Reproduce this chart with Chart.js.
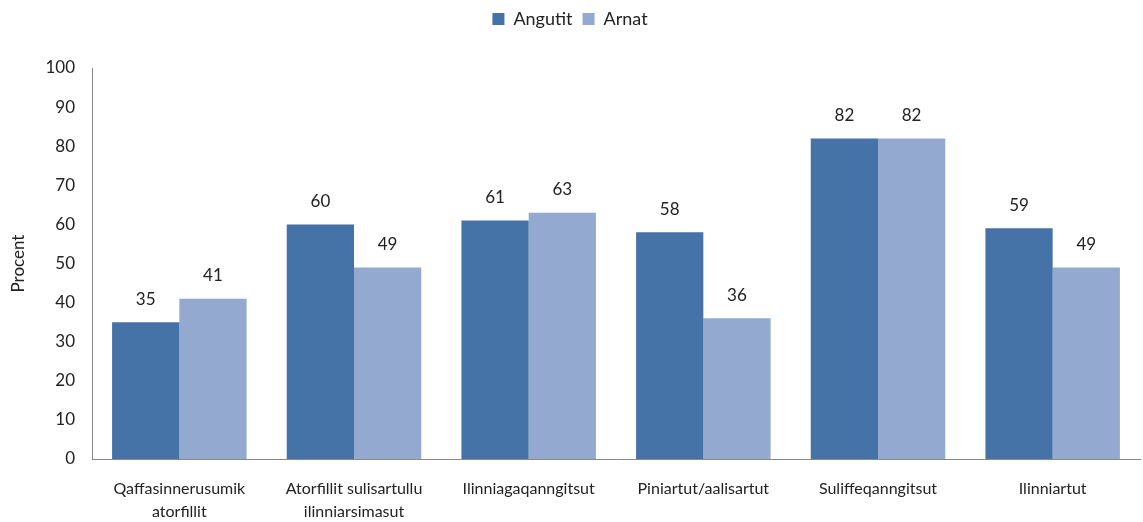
<!DOCTYPE html>
<html>
<head>
<meta charset="utf-8">
<script src="https://cdn.jsdelivr.net/npm/chart.js@4"></script>
<style>
  html, body { margin: 0; padding: 0; background: #fff; }
  #wrap { width: 1143px; height: 522px; }
</style>
</head>
<body>
<div id="wrap"><canvas id="myChart" width="1143" height="522"></canvas></div>
<script>
// categories and values
var categories = [
  ["Qaffasinnerusumik", "atorfillit"],
  ["Atorfillit sulisartullu", "ilinniarsimasut"],
  "Ilinniagaqanngitsut",
  "Piniartut/aalisartut",
  "Suliffeqanngitsut",
  "Ilinniartut"
];
var angutit = [35, 60, 61, 58, 82, 59];
var arnat = [41, 49, 63, 36, 82, 49];
var yTicks = [0, 10, 20, 30, 40, 50, 60, 70, 80, 90, 100];

var textColor = "#222";
var fontFamily = "Lato, 'Open Sans', sans-serif";

// draws the number above each bar
var barValues = {
  id: "barValues",
  afterDatasetsDraw: function(chart) {
    var ctx = chart.ctx;
    ctx.save();
    ctx.font = "17px " + fontFamily;
    ctx.fillStyle = textColor;
    ctx.textAlign = "center";
    ctx.textBaseline = "middle";
    chart.data.datasets.forEach(function(ds, i) {
      var meta = chart.getDatasetMeta(i);
      meta.data.forEach(function(bar, j) {
        ctx.fillText(ds.data[j], bar.x, bar.y - 23);
      });
    });
    ctx.restore();
  }
};

// extra room under the legend
var legendGap = {
  id: "legendGap",
  beforeInit: function(chart) {
    var fit = chart.legend.fit;
    chart.legend.fit = function() {
      fit.call(this);
      this.height += 30;
    };
  }
};

var ctx = document.getElementById("myChart").getContext("2d");
var myNewChart = new Chart(ctx, {
  type: "bar",
  data: {
    labels: categories,
    datasets: [
      { label: "Angutit", data: angutit, backgroundColor: "#4572A7", borderWidth: 0 },
      { label: "Arnat", data: arnat, backgroundColor: "#93A9CF", borderWidth: 0 }
    ]
  },
  options: {
    responsive: false,
    animation: false,
    layout: { padding: { left: 0, right: 3, top: 0, bottom: 0 } },
    categoryPercentage: 0.77,
    barPercentage: 1.0,
    plugins: {
      legend: {
        position: "top",
        labels: {
          boxWidth: 12,
          boxHeight: 12,
          padding: 10,
          color: textColor,
          font: { family: fontFamily, size: 18 }
        }
      },
      tooltip: { enabled: false }
    },
    scales: {
      x: {
        grid: { display: false, drawTicks: false },
        border: { color: "#898989", width: 1 },
        ticks: {
          color: textColor,
          padding: 19,
          maxRotation: 0,
          autoSkip: false,
          font: { family: fontFamily, size: 16, lineHeight: 1.4 }
        },
        afterFit: function(s) { s.height = 63; }
      },
      y: {
        min: 0,
        max: 100,
        afterBuildTicks: function(s) {
          s.ticks = yTicks.map(function(v) { return { value: v }; });
        },
        grid: { display: false, drawTicks: false },
        border: { color: "#898989", width: 1 },
        ticks: {
          color: textColor,
          padding: 17,
          font: { family: fontFamily, size: 17 }
        },
        title: {
          display: true,
          text: "Procent",
          color: textColor,
          font: { family: fontFamily, size: 17 },
          padding: { top: 8, bottom: 0 }
        },
        afterFit: function(s) { s.width = 92; }
      }
    }
  },
  plugins: [barValues, legendGap]
});
</script>
</body>
</html>
